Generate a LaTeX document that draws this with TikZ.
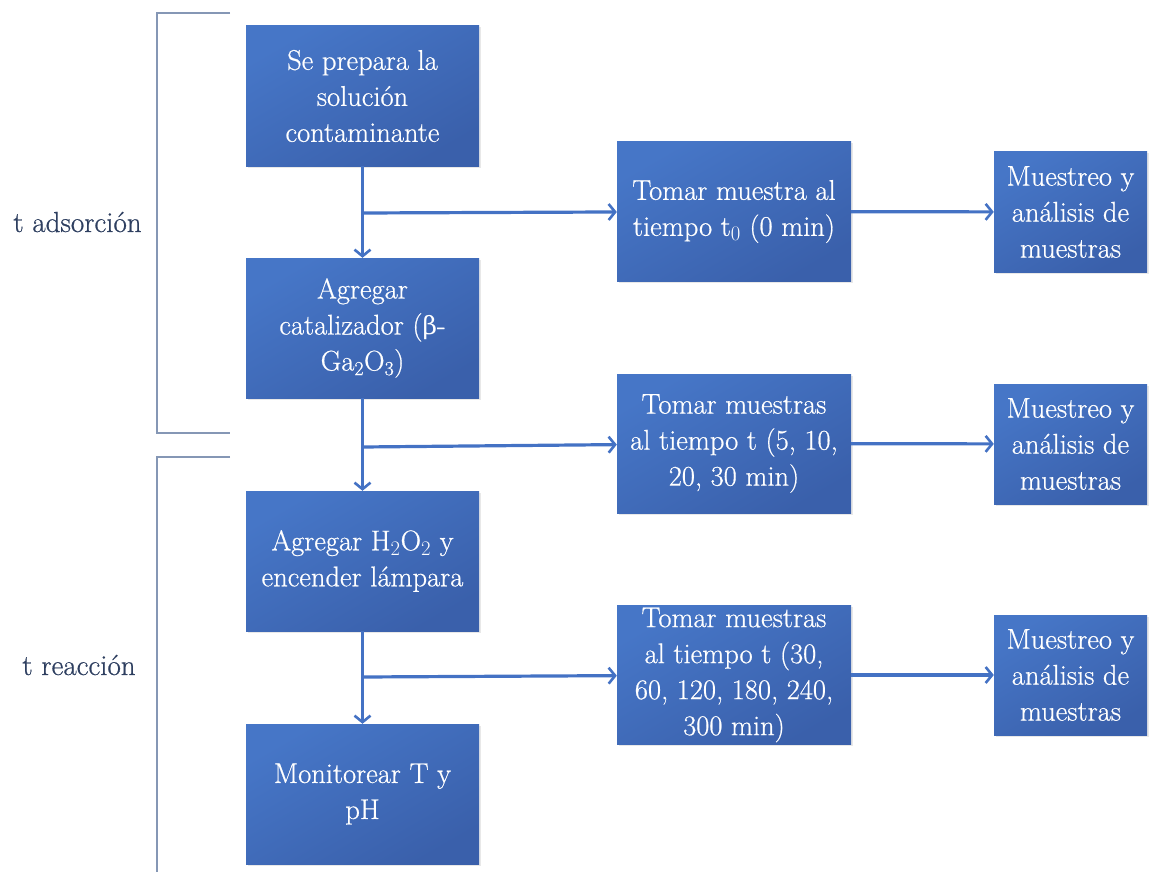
\documentclass[tikz,border=0pt]{standalone}
\usepackage{fontspec}
\setmainfont{Latin Modern Roman}[FakeBold=0.6]
\newfontfamily\griega{DejaVu Serif}
\usetikzlibrary{arrows.meta,shadows}
\definecolor{cajaclara}{HTML}{4676C7}
\definecolor{cajaoscura}{HTML}{3A60AB}
\definecolor{linea}{HTML}{4472C4}
\definecolor{llave}{HTML}{8597B5}
\definecolor{etiqueta}{HTML}{2E3F60}
\begin{document}
\begin{tikzpicture}[x=1pt, y=-1pt,
  caja/.style={draw=none, top color=cajaclara, bottom color=cajaoscura, shading angle=30,
    text=white, align=center, inner sep=0pt, minimum width=233pt, minimum height=140pt,
    font=\fontsize{28.5}{36}\selectfont,
    drop shadow={opacity=0.18, shadow xshift=1.5pt, shadow yshift=-1.5pt}},
  cajachica/.style={caja, minimum width=153pt, minimum height=120pt},
  flecha/.style={draw=linea, line width=3.2pt, -{Straight Barb[length=6.5pt, width=16pt, line width=2.6pt]}},
  etiq/.style={text=etiqueta, font=\fontsize{29}{36}\selectfont, inner sep=0pt}]
\useasboundingbox (0,0) rectangle (1159,872);
\draw[llave, line width=1.5pt] (230,13) -- (157,13) -- (157,433) -- (230,433);
\draw[llave, line width=1.5pt] (230,457) -- (157,457) -- (157,872);
\node[etiq] (tads) at (77.5,222) {t adsorción};
\node[etiq] (treac) at (79,665) {t reacción};
\node[caja] (prep) at (362.5,96) {Se prepara la\\solución\\contaminante};
\node[caja] (cat) at (362.5,328) {Agregar\\catalizador ({\griega\fontsize{25}{36}\selectfont β}-\\Ga\textsubscript{2}O\textsubscript{3})};
\node[caja] (agua) at (362.5,561) {Agregar H$_2$O$_2$ y\\encender lámpara};
\node[caja] (monit) at (362.5,794) {Monitorear T y\\pH};
\node[caja, minimum width=234pt, minimum height=139pt] (toma1) at (734,211.5) {Tomar muestra al\\tiempo t$_0$ (0 min)};
\node[caja, minimum width=234pt, minimum height=139pt] (toma2) at (734,443.5) {Tomar muestras\\al tiempo t (5, 10,\\20, 30 min)};
\node[caja, minimum width=234pt, minimum height=139pt] (toma3) at (734,675) {Tomar muestras\\al tiempo t (30,\\60, 120, 180, 240,\\300 min)};
\node[cajachica] (anal1) at (1070.5,212) {Muestreo y\\análisis de\\muestras};
\node[cajachica] (anal2) at (1070.5,444) {Muestreo y\\análisis de\\muestras};
\node[cajachica] (anal3) at (1070.5,675) {Muestreo y\\análisis de\\muestras};
\coordinate (j1) at (362.5,213);
\coordinate (j2) at (362.5,447);
\coordinate (j3) at (362.5,677);
\draw[flecha] (prep) -- (cat);
\draw[flecha] (cat) -- (agua);
\draw[flecha] (agua) -- (monit);
\draw[flecha] (j1) -- (toma1);
\draw[flecha] (j2) -- (toma2);
\draw[flecha] (j3) -- (toma3);
\draw[flecha] (toma1) -- (anal1);
\draw[flecha] (toma2) -- (anal2);
\draw[flecha] (toma3) -- (anal3);
\end{tikzpicture}
\end{document}
